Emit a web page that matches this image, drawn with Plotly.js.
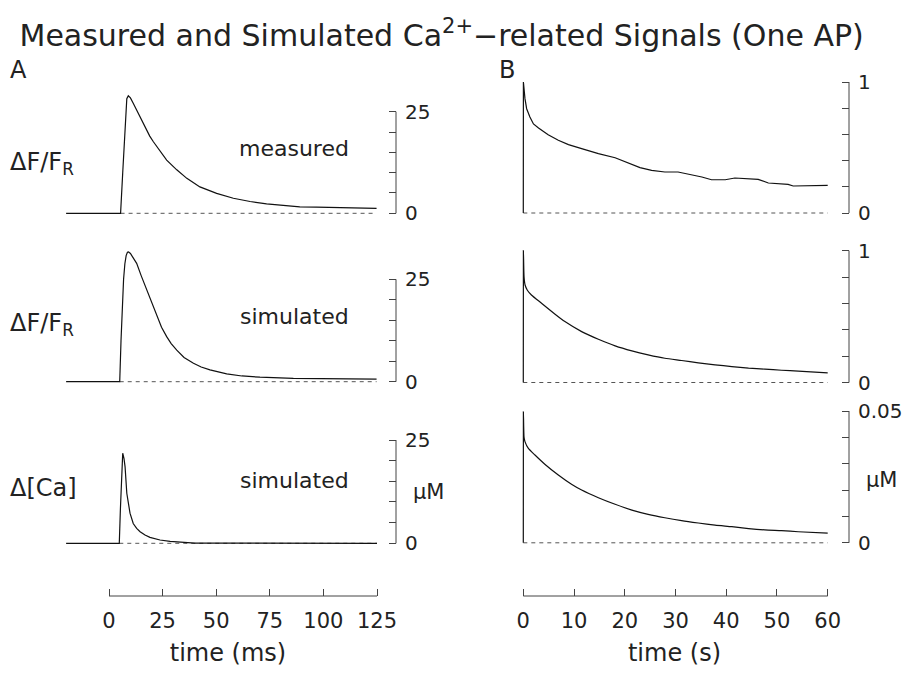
<!DOCTYPE html>
<html>
<head>
<meta charset="utf-8">
<script src="https://cdn.plot.ly/plotly-3.0.1.min.js"></script>
<style>html,body{margin:0;padding:0;background:#fff;}#chart{width:905px;height:675px;}</style>
</head>
<body>
<div id="chart"></div>
<script>
// ---------- DATA ----------
// Panel A (time in ms)
const tA_meas = [-20, 5.4, 6.4, 7.4, 8.3, 9.0, 10.0, 11.3, 12.8, 14.5, 16.0, 17.6, 19.0, 20.7, 22.3, 23.8, 26.9, 31.6, 36.3, 42.4, 50.2, 58.0, 65.8, 73.5, 81.3, 89.0, 96.8, 104.6, 114.7, 124.8];
const dff_meas = [0, 0, 10, 20, 28.2, 28.9, 28.4, 27.1, 25.5, 23.8, 22.1, 20.5, 19.0, 17.6, 16.4, 15.2, 13.1, 10.7, 8.6, 6.5, 4.9, 3.7, 2.9, 2.3, 1.9, 1.6, 1.5, 1.4, 1.3, 1.2];

const tA_sim = [-20, 5.0, 5.6, 6.2, 6.8, 7.4, 8.0, 8.6, 9.1, 10.0, 11.0, 12.9, 15.0, 17.6, 20.0, 22.3, 24.5, 26.9, 29.0, 31.6, 35.0, 39.4, 43.0, 47.1, 54.9, 62.0, 70.4, 86.0, 100.0, 112.0, 124.8];
const dff_sim = [0, 0, 10, 19, 25, 28.8, 30.8, 31.6, 31.7, 31.3, 30.4, 28.9, 25.9, 22.4, 19.1, 15.9, 13.3, 11.0, 9.3, 7.7, 5.9, 4.5, 3.6, 2.9, 1.9, 1.4, 1.1, 0.8, 0.7, 0.66, 0.65];

const tA_ca = [-20, 4.8, 5.3, 5.8, 6.4, 7.0, 7.5, 8.3, 9.0, 9.8, 11.3, 12.9, 14.5, 16.8, 19.1, 23.8, 28.5, 33.1, 40.0, 125];
const ca_sim = [0, 0, 8, 17, 21.8, 20.5, 18.5, 12.1, 9.3, 7.3, 4.8, 3.6, 2.8, 2.0, 1.45, 0.8, 0.45, 0.25, 0.05, 0];

// Panel B (time in s)
const tB_meas = [0, 0.02, 0.33, 0.66, 1.3, 2.0, 3.0, 4.9, 6.9, 8.9, 11.5, 14.8, 18.1, 20.7, 23.0, 25.3, 27.9, 30.5, 33.2, 35.2, 37.1, 39.8, 41.7, 44.3, 46.3, 48.3, 50.9, 52.2, 53.2, 55.5, 60];
const dffB_meas = [0, 1.0, 0.873, 0.796, 0.733, 0.68, 0.649, 0.598, 0.555, 0.522, 0.491, 0.453, 0.422, 0.384, 0.346, 0.326, 0.313, 0.313, 0.293, 0.275, 0.254, 0.254, 0.267, 0.262, 0.257, 0.229, 0.226, 0.219, 0.206, 0.209, 0.211];

const tB_sim = [0, 0.02, 0.15, 0.35, 0.8, 1.6, 3.6, 6.2, 8.2, 11.5, 14.8, 18.1, 21.4, 24.6, 27.9, 31.2, 34.5, 37.8, 41.1, 44.4, 47.6, 50.9, 54.2, 60];
const dffB_sim = [0, 1.0, 0.80, 0.74, 0.70, 0.664, 0.601, 0.52, 0.462, 0.386, 0.328, 0.278, 0.24, 0.21, 0.184, 0.167, 0.149, 0.134, 0.121, 0.109, 0.101, 0.093, 0.086, 0.073];

const tB_ca = [0, 0.02, 0.15, 0.33, 1.0, 2.3, 4.3, 6.9, 9.5, 11.5, 14.8, 18.1, 21.4, 24.6, 27.9, 31.2, 34.5, 37.8, 41.1, 44.4, 47.6, 50.9, 54.2, 60];
const caB_sim = [0, 0.0497, 0.040, 0.0384, 0.0358, 0.0333, 0.0297, 0.0257, 0.0222, 0.0200, 0.0171, 0.0146, 0.0124, 0.0108, 0.0095, 0.0084, 0.0075, 0.0067, 0.0061, 0.0054, 0.0049, 0.0046, 0.0042, 0.0037];

// tick values / labels
const ticksTimeA = [0, 25, 50, 75, 100, 125];
const ticksTimeB = [0, 10, 20, 30, 40, 50, 60];
const ticksDffA = [0, 5, 10, 15, 20, 25];
const ticksDffB = [0, 0.2, 0.4, 0.6, 0.8, 1];
const ticksCaB = [0, 0.01, 0.02, 0.03, 0.04, 0.05];
const labelsDffA = ['0', '25'];
const labelsDffB = ['0', '1'];
const labelsCaB = ['0', '0.05'];

// text
const titleText = 'Measured and Simulated Ca<sup>2+</sup>\u2212related Signals (One AP)';
const rowLabels = ['\u0394F/F<sub>R</sub>', '\u0394F/F<sub>R</sub>', '\u0394[Ca]'];
const rowTags = ['measured', 'simulated', 'simulated'];

// ---------- LAYOUT HELPERS ----------
const W = 905, H = 675;
const FONT = 'DejaVu Sans';
const AX = '#444';
const TXT = '#222';
const px = v => v / W;
const py = v => 1 - v / H;

// panel geometry (pixels)
const colA = {left: 60, right: 396, zero: 109, slope: 268 / 125};
const colB = {left: 500, right: 849, zero: 523.3, slope: 304.4 / 60};
const rowsA = [
  {top: 70, bottom: 222, zero: 213.3, slope: 101.6 / 25},
  {top: 238, bottom: 390, zero: 381.7, slope: 102.4 / 25},
  {top: 405, bottom: 552, zero: 543.3, slope: 103.3 / 25}
];
const rowsB = [
  {top: 70, bottom: 222, zero: 213.0, slope: 131.0},
  {top: 238, bottom: 390, zero: 382.5, slope: 131.8},
  {top: 405, bottom: 552, zero: 542.8, slope: 131.8 / 0.05}
];
const bottomAxisY = 596;

function xRange(c) { return [(c.left - c.zero) / c.slope, (c.right - c.zero) / c.slope]; }
function yRange(r) { return [-(r.bottom - r.zero) / r.slope, (r.zero - r.top) / r.slope]; }

const series = [
  {x: tA_meas, y: dff_meas, col: 'A', smooth: false},
  {x: tA_sim, y: dff_sim, col: 'A', smooth: false},
  {x: tA_ca, y: ca_sim, col: 'A', smooth: false},
  {x: tB_meas, y: dffB_meas, col: 'B', smooth: false},
  {x: tB_sim, y: dffB_sim, col: 'B', smooth: true},
  {x: tB_ca, y: caB_sim, col: 'B', smooth: true}
];
const yTicks = [ticksDffA, ticksDffA, ticksDffA, ticksDffB, ticksDffB, ticksCaB];
const yLabels = [labelsDffA, labelsDffA, labelsDffA, labelsDffB, labelsDffB, labelsCaB];

const traces = [];
const layout = {
  width: W, height: H,
  margin: {l: 0, r: 0, t: 0, b: 0},
  paper_bgcolor: '#fff', plot_bgcolor: '#fff',
  showlegend: false,
  font: {family: FONT, color: TXT, size: 20},
  title: {text: titleText, x: 0.488, xanchor: 'center', y: py(35), yanchor: 'middle', yref: 'paper',
          font: {family: FONT, size: 30, color: TXT}},
  shapes: [], annotations: []
};

series.forEach((s, i) => {
  const n = i + 1;
  const sfx = n === 1 ? '' : String(n);
  const xa = 'x' + sfx, ya = 'y' + sfx;
  const col = s.col === 'A' ? colA : colB;
  const row = s.col === 'A' ? rowsA[i] : rowsB[i - 3];
  // dashed zero baseline from onset to end
  let onset = s.x[0];
  for (let k = 0; k < s.y.length; k++) { if (s.y[k] > 0) { onset = s.x[Math.max(0, k - 1)]; break; } }
  const xEnd = s.x[s.x.length - 1];
  traces.push({x: [onset, xEnd], y: [0, 0], xaxis: xa, yaxis: ya, mode: 'lines', hoverinfo: 'skip',
               line: {color: '#555', width: 1, dash: '4px,4px'}});
  traces.push({x: s.x, y: s.y, xaxis: xa, yaxis: ya, mode: 'lines',
               line: {color: '#111', width: 1.2, shape: s.smooth ? 'spline' : 'linear', smoothing: 0.6}});
  const isBottom = (i === 2 || i === 5);
  const tickT = s.col === 'A' ? ticksTimeA : ticksTimeB;
  layout['xaxis' + sfx] = {
    domain: [px(col.left), px(col.right)], range: xRange(col), fixedrange: true,
    showgrid: false, zeroline: false, showline: false
  };
  if (isBottom) {
    Object.assign(layout['xaxis' + sfx], {
      anchor: 'free', position: py(bottomAxisY), side: 'bottom',
      ticks: 'inside', ticklen: 7, tickwidth: 1, tickcolor: AX,
      tickvals: tickT, ticktext: tickT.map(String), ticklabelstandoff: 10,
      tickfont: {family: FONT, size: 21, color: TXT},
      title: {text: s.col === 'A' ? 'time (ms)' : 'time (s)', standoff: 12,
              font: {family: FONT, size: 24, color: TXT}}
    });
    layout.shapes.push({type: 'line', xref: xa, yref: 'paper', x0: tickT[0], x1: tickT[tickT.length - 1],
                        y0: py(bottomAxisY), y1: py(bottomAxisY), line: {color: AX, width: 1}});
  } else {
    Object.assign(layout['xaxis' + sfx], {anchor: ya, showticklabels: false, ticks: ''});
  }
  const yt = yTicks[i];
  layout['yaxis' + sfx] = {
    domain: [py(row.bottom), py(row.top)], range: yRange(row), fixedrange: true,
    anchor: xa, side: 'right', showgrid: false, zeroline: false, showline: false,
    ticks: 'inside', ticklen: 7, tickwidth: 1, tickcolor: AX,
    tickvals: [yt[0], yt[yt.length - 1]], ticktext: yLabels[i],
    minor: {tickvals: yt.slice(1, -1), ticks: 'inside', ticklen: 7, tickwidth: 1, tickcolor: AX, showgrid: false},
    ticklabelstandoff: 8,
    tickfont: {family: FONT, size: 20, color: TXT}
  };
  layout.shapes.push({type: 'line', xref: xa + ' domain', yref: ya, x0: 1, x1: 1,
                      y0: yt[0], y1: yt[yt.length - 1], line: {color: AX, width: 1}});
});

// annotations
const ann = (text, x, y, size, xanchor) => ({text, x: px(x), y: py(y), xref: 'paper', yref: 'paper',
  showarrow: false, xanchor: xanchor || 'center', yanchor: 'middle', font: {family: FONT, size, color: TXT}});
layout.annotations.push(ann('A', 8, 70, 24, 'left'));
layout.annotations.push(ann('B', 497, 70, 24, 'left'));
const rowLabelY = [163, 324, 488];
const tagY = [148, 316, 480];
rowLabels.forEach((t, i) => layout.annotations.push(ann(t, 8, rowLabelY[i], 24, 'left')));
rowTags.forEach((t, i) => layout.annotations.push(ann(t, 294, tagY[i], 22, 'center')));
layout.annotations.push(ann('\u03bcM', 428, 492, 21, 'center'));
layout.annotations.push(ann('\u03bcM', 881, 480, 21, 'center'));

Plotly.newPlot('chart', traces, layout, {staticPlot: true, displayModeBar: false});
</script>
</body>
</html>
